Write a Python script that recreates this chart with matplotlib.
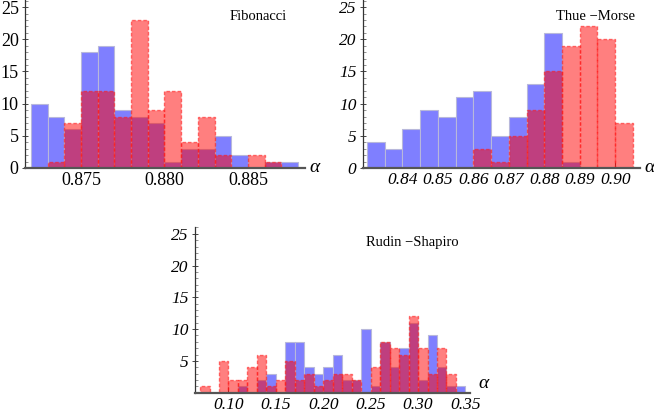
import numpy as np
import matplotlib
matplotlib.use("Agg")
import matplotlib.pyplot as plt
from matplotlib.ticker import MultipleLocator, FixedLocator
import matplotlib.transforms as mtransforms

plt.rcParams['font.family'] = ['Liberation Serif', 'DejaVu Serif']

# ---------------- data ----------------
fib_start, fib_width = 0.872, 0.001
fib_blue = [10, 8, 6, 18, 19, 9, 8, 7, 1, 3, 3, 5, 2, 0, 1, 1]
fib_red = [0, 1, 7, 12, 12, 8, 23, 9, 12, 4, 8, 2, 0, 2, 1, 0]
fib_xticks = [0.875, 0.880, 0.885]
fib_xticklabels = ["0.875", "0.880", "0.885"]

tm_start, tm_width = 0.830, 0.005
tm_blue = [4, 3, 6, 9, 8, 11, 12, 5, 8, 13, 21, 1, 0, 0, 0]
tm_red = [0, 0, 0, 0, 0, 0, 3, 1, 5, 9, 15, 19, 22, 20, 7]
tm_xticks = [0.84, 0.85, 0.86, 0.87, 0.88, 0.89, 0.90]
tm_xticklabels = ["0.84", "0.85", "0.86", "0.87", "0.88", "0.89", "0.90"]

rs_start, rs_width = 0.07, 0.01
rs_blue = [0, 0, 0, 0, 1, 0, 2, 3, 0, 8, 8, 4, 3, 4, 6, 2, 2, 10, 1, 8, 4, 7, 11, 2, 9, 4, 1, 1]
rs_red = [1, 0, 5, 2, 2, 4, 6, 1, 2, 5, 2, 3, 1, 2, 3, 3, 2, 0, 4, 8, 7, 6, 12, 7, 3, 7, 3, 0]
rs_xticks = [0.10, 0.15, 0.20, 0.25, 0.30, 0.35]
rs_xticklabels = ["0.10", "0.15", "0.20", "0.25", "0.30", "0.35"]

yticks_full = [0, 5, 10, 15, 20, 25]
yticks_rs = [5, 10, 15, 20, 25]

BLUE = (0.0, 0.0, 1.0, 0.5)
BLUE_EDGE = (0.72, 0.72, 0.86, 1.0)
RED = (1.0, 0.0, 0.0, 0.5)
RED_EDGE = (1.0, 0.1, 0.1, 0.6)

fig = plt.figure(figsize=(6.54, 4.18), dpi=100)


def panel(rect, start, width, blue, red, xlim, xticks, xticklabels, yticks,
          title, title_xy, italic, tick_fs, alpha_xy):
    ax = fig.add_axes(rect)
    n = len(blue)
    lefts = start + width * np.arange(n)
    b = np.array(blue, dtype=float)
    r = np.array(red, dtype=float)
    mb = b > 0
    mr = r > 0
    ax.bar(lefts[mb], b[mb], width=width, align='edge', color=BLUE,
           edgecolor=BLUE_EDGE, linewidth=0.8, zorder=2)
    ax.bar(lefts[mr], r[mr], width=width, align='edge', color=RED,
           edgecolor=RED_EDGE, linewidth=1.0, linestyle=(0, (2.5, 1.5)), zorder=3)
    ax.set_xlim(*xlim)
    ax.set_ylim(0, 26.1)
    for s in ('top', 'right'):
        ax.spines[s].set_visible(False)
    ax.spines['bottom'].set_color('#555555')
    ax.spines['bottom'].set_linewidth(1.6)
    ax.spines['bottom'].set_zorder(5)
    ax.spines['left'].set_color('#333333')
    ax.spines['left'].set_linewidth(0.9)
    ax.patch.set_alpha(0)
    style = 'italic' if italic else 'normal'
    ax.xaxis.set_major_locator(FixedLocator(xticks))
    ax.set_xticklabels(xticklabels, fontsize=tick_fs, fontstyle=style)
    ax.yaxis.set_major_locator(FixedLocator(yticks))
    ax.set_yticklabels([str(v) for v in yticks], fontsize=tick_fs, fontstyle=style)
    ax.yaxis.set_minor_locator(MultipleLocator(1))
    ax.tick_params(axis='x', which='major', direction='in', length=4, width=0.7,
                   color='#444444', pad=3)
    ax.tick_params(axis='y', which='major', direction='inout', length=5, width=0.7,
                   color='#444444', pad=2)
    ax.tick_params(axis='y', which='minor', direction='in', length=2, width=0.5,
                   color='#666666')
    ax.text(title_xy[0], title_xy[1], title, transform=ax.transAxes,
            ha='center', va='center', fontsize=10.5)
    trans = mtransforms.blended_transform_factory(ax.transAxes, ax.transData)
    ax.text(alpha_xy[0], alpha_xy[1], "α", transform=trans, ha='left', va='center',
            fontsize=14, fontstyle='italic', clip_on=False)
    return ax


W, H = 654.0, 418.0


def rect(l, r, b, t):
    return [l / W, (H - b) / H, (r - l) / W, (b - t) / H]


panel(rect(25, 305, 168, 0), fib_start, fib_width, fib_blue, fib_red,
      (0.87164, 0.88842), fib_xticks, fib_xticklabels, yticks_full,
      "Fibonacci", (0.832, 0.899), False, 13, (1.015, 0.1))

panel(rect(362.7, 640, 168, 0), tm_start, tm_width, tm_blue, tm_red,
      (0.8288, 0.9070), tm_xticks, tm_xticklabels, yticks_full,
      "Thue \u2212Morse", (0.838, 0.899), True, 12.5, (1.015, 0.1))

panel(rect(195, 470, 392.7, 226.8), rs_start, rs_width, rs_blue, rs_red,
      (0.0647, 0.3548), rs_xticks, rs_xticklabels, yticks_rs,
      "Rudin \u2212Shapiro", (0.789, 0.908), True, 12.5, (1.03, 1.4))

fig.savefig("out.png", dpi=100)
